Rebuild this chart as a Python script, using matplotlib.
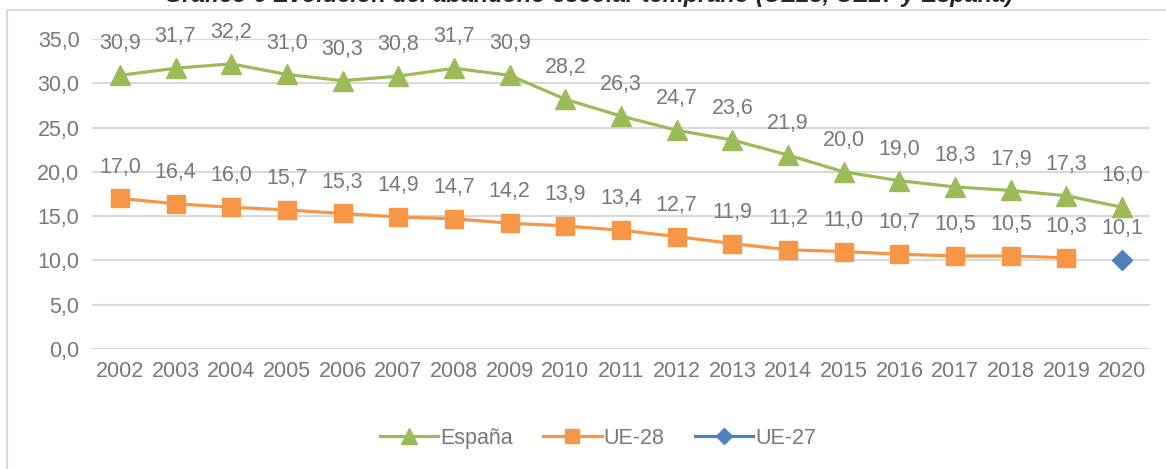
import matplotlib
matplotlib.use("Agg")
import matplotlib.pyplot as plt
from matplotlib.patches import Rectangle

years = [str(y) for y in range(2002, 2021)]
espana = [30.9, 31.7, 32.2, 31.0, 30.3, 30.8, 31.7, 30.9, 28.2, 26.3,
          24.7, 23.6, 21.9, 20.0, 19.0, 18.3, 17.9, 17.3, 16.0]
ue28 = [17.0, 16.4, 16.0, 15.7, 15.3, 14.9, 14.7, 14.2, 13.9, 13.4,
        12.7, 11.9, 11.2, 11.0, 10.7, 10.5, 10.5, 10.3]
ue27 = [10.1]
ue27_years = ["2020"]
yticks = [0, 5, 10, 15, 20, 25, 30, 35]
title = "Gráfico 6 Evolución del abandono escolar temprano (UE28, UE27 y España)"

plt.rcParams['font.family'] = ['Liberation Sans', 'DejaVu Sans']
gris = '#787878'
fs = 15.5

fig = plt.figure(figsize=(11.66, 4.69), dpi=100)
ax = fig.add_axes([0.0789, 0.2559, 0.9074, 0.6609])

x = list(range(len(years)))
x27 = [years.index(y) for y in ue27_years]

ax.plot(x, espana, color='#9bbb59', lw=2.3, marker='^', ms=14, label='España', zorder=3)
ax.plot(x[:len(ue28)], ue28, color='#f79646', lw=2.3, marker='s', ms=13, label='UE-28', zorder=3)
ax.plot(x27, ue27, color='#4f81bd', lw=2.3, marker='D', ms=10, label='UE-27', zorder=3)

def fmt(v):
    return f"{v:.1f}".replace('.', ',')

# etiquetas de datos encima de cada punto
for xs, vals in [(x, espana), (x[:len(ue28)], ue28), (x27, ue27)]:
    for xi, v in zip(xs, vals):
        ax.annotate(fmt(v), (xi, v), xytext=(0, 15), textcoords='offset points',
                    ha='center', va='bottom', fontsize=fs, color=gris,
                    annotation_clip=False)

ax.set_xlim(-0.5, len(years) - 0.5)
ax.set_ylim(0, 35)
ax.set_xticks(x)
ax.set_xticklabels(years)
ax.set_yticks(yticks)
ax.set_yticklabels([fmt(v) for v in yticks])
ax.tick_params(length=0, labelsize=fs, labelcolor=gris, pad=9)
ax.grid(axis='y', color='#d9d9d9', lw=1.5)
ax.set_axisbelow(True)
for s in ax.spines.values():
    s.set_visible(False)

fig.legend(loc='center', bbox_to_anchor=(0.513, 0.066), ncol=3, frameon=False,
           fontsize=fs, labelcolor=gris, handlelength=2.7, columnspacing=1.4,
           handletextpad=0.1, markerscale=0.8)

fig.patches.append(Rectangle((7 / 1166, -0.05), 1.1, 1 - 10 / 469 + 0.05,
                             transform=fig.transFigure, fill=False,
                             edgecolor='#d9d9d9', lw=1.5))
fig.text(0.505, 0.985, title, ha='center', va='bottom', fontsize=17,
         fontweight='bold', fontstyle='italic', color='#262626')

fig.savefig('out.png', dpi=100)
